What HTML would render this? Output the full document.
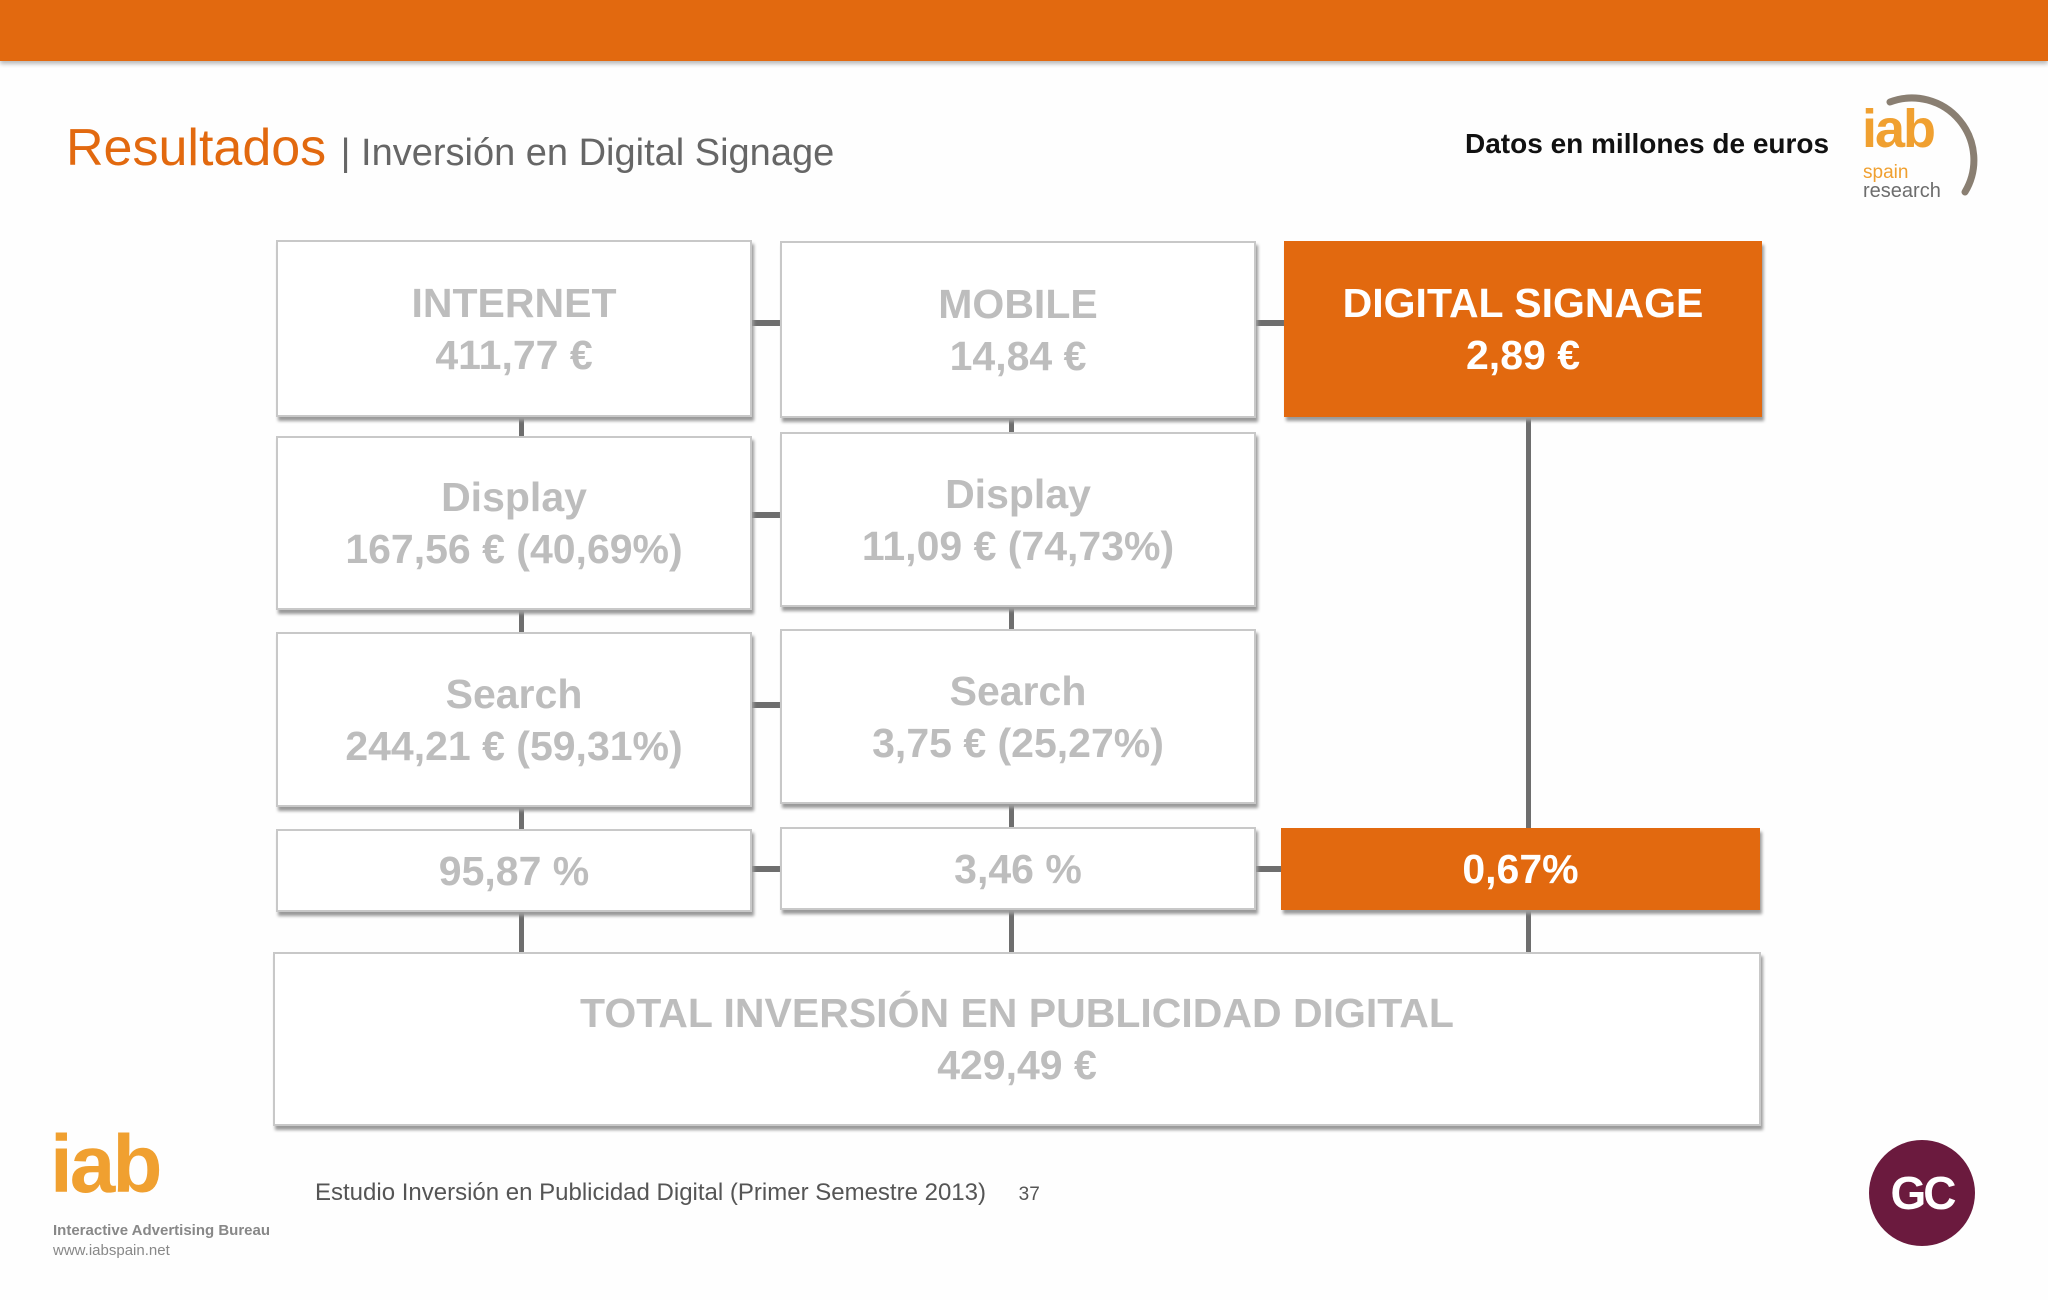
<!DOCTYPE html>
<html><head><meta charset="utf-8">
<style>
body{margin:0;width:2048px;height:1300px;background:#fefefe;position:relative;overflow:hidden;font-family:"Liberation Sans",sans-serif}
.abs{position:absolute}
.box{position:absolute;background:#fff;border:2px solid #c8c8c8;box-sizing:border-box;box-shadow:2px 4px 3px #9a9a9a;display:flex;flex-direction:column;justify-content:center;align-items:center;color:#bdbdbd;font-weight:bold;font-size:41px;line-height:52px;text-align:center}
.box.or{background:#e2690f;border-color:#e2690f;color:#fff}
.ln{position:absolute;background:#6e6e6e}
</style></head><body>
<div class="abs" style="left:0;top:0;width:2048px;height:61px;background:#e2690f;box-shadow:0 3px 4px #bbb"></div>
<div class="abs" style="left:66px;top:118px;font-size:52px;color:#e2690f;white-space:nowrap">Resultados <span style="color:#666;font-size:38px">| Inversión en Digital Signage</span></div>
<div class="abs" style="left:1465px;top:128px;font-size:28px;font-weight:bold;color:#111;white-space:nowrap">Datos en millones de euros</div>
<div class="abs" style="left:1860px;top:92px;width:120px;height:115px">
 <svg width="120" height="115" class="abs" style="left:0;top:0"><path d="M30 10 A62 62 0 0 1 105 100" fill="none" stroke="#8a7f72" stroke-width="7" stroke-linecap="round"/></svg>
 <div class="abs" style="left:2px;top:6px;font-size:54px;font-weight:bold;color:#f0a030;letter-spacing:-2px">iab</div>
 <div class="abs" style="left:3px;top:70px;font-size:19px;color:#f0a030">spain</div>
 <div class="abs" style="left:3px;top:88px;font-size:20px;color:#6d6d6d">research</div>
</div>

<!-- connectors -->
<div class="ln" style="left:519px;top:415px;width:5px;height:540px"></div>
<div class="ln" style="left:1009px;top:415px;width:5px;height:540px"></div>
<div class="ln" style="left:1526px;top:415px;width:5px;height:540px"></div>
<div class="ln" style="left:750px;top:320px;width:32px;height:6px"></div>
<div class="ln" style="left:1254px;top:320px;width:32px;height:6px"></div>
<div class="ln" style="left:750px;top:512px;width:32px;height:6px"></div>
<div class="ln" style="left:750px;top:702px;width:32px;height:6px"></div>
<div class="ln" style="left:750px;top:866px;width:32px;height:6px"></div>
<div class="ln" style="left:1254px;top:866px;width:32px;height:6px"></div>

<div class="box" style="left:276px;top:240px;width:476px;height:177px"><div>INTERNET</div><div>411,77 €</div></div>
<div class="box" style="left:780px;top:241px;width:476px;height:177px"><div>MOBILE</div><div>14,84 €</div></div>
<div class="box or" style="left:1284px;top:241px;width:478px;height:176px"><div>DIGITAL SIGNAGE</div><div>2,89 €</div></div>

<div class="box" style="left:276px;top:436px;width:476px;height:174px"><div>Display</div><div>167,56 € (40,69%)</div></div>
<div class="box" style="left:780px;top:432px;width:476px;height:175px"><div>Display</div><div>11,09 € (74,73%)</div></div>

<div class="box" style="left:276px;top:632px;width:476px;height:175px"><div>Search</div><div>244,21 € (59,31%)</div></div>
<div class="box" style="left:780px;top:629px;width:476px;height:175px"><div>Search</div><div>3,75 € (25,27%)</div></div>

<div class="box" style="left:276px;top:829px;width:476px;height:83px">95,87 %</div>
<div class="box" style="left:780px;top:827px;width:476px;height:83px">3,46 %</div>
<div class="box or" style="left:1281px;top:828px;width:479px;height:82px">0,67%</div>

<div class="box" style="left:273px;top:952px;width:1488px;height:174px"><div>TOTAL INVERSIÓN EN PUBLICIDAD DIGITAL</div><div>429,49 €</div></div>

<div class="abs" style="left:50px;top:1118px;font-size:82px;font-weight:bold;color:#f0a030;letter-spacing:-3px">iab</div>
<div class="abs" style="left:53px;top:1222px;font-size:15px;font-weight:bold;color:#888;white-space:nowrap">Interactive Advertising Bureau</div>
<div class="abs" style="left:53px;top:1242px;font-size:15px;color:#888">www.iabspain.net</div>
<div class="abs" style="left:315px;top:1179px;font-size:24px;color:#555;white-space:nowrap">Estudio Inversión en Publicidad Digital (Primer Semestre 2013) <span style="margin-left:26px;font-size:19px">37</span></div>
<div class="abs" style="left:1869px;top:1140px;width:106px;height:106px;border-radius:50%;background:#6b1a3e;color:#fff;font-weight:bold;font-size:46px;display:flex;align-items:center;justify-content:center;letter-spacing:-3px">GC</div>
</body></html>
